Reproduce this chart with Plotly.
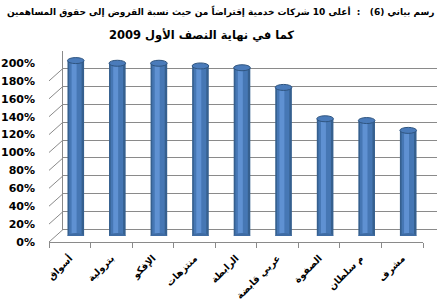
import plotly.graph_objects as go

categories = ["أسواق", "بترولية", "الإفكو", "منتزهات", "الرابطة", "عربي قابضة", "الصفوة", "م سلطان", "مشرف"]
values = [196, 193, 193, 190, 188, 166, 131, 129, 118]
tick_vals = [0, 20, 40, 60, 80, 100, 120, 140, 160, 180, 200]
tick_text = [f"{v}%" for v in tick_vals]
title_line1 = "رسم بياني (6)   :  أعلى 10 شركات خدمية إقتراضاً من حيث نسبة القروض إلى حقوق المساهمين"
title_line2 = "كما في نهاية النصف الأول 2009"

W, H = 440, 301
ML, MR, MT, MB = 49, 3, 50, 59
PW = W - ML - MR
PH = H - MT - MB
DX, DY = 14, 12.5      # depth of the pseudo-3D box
BX, BY = 6, 6          # bar depth offset

font_fam = "DejaVu Sans"
grid_c = "#8a8a8a"
n = len(categories)
idx = list(range(n))

fig = go.Figure()

# invisible helper traces so every axis is drawn
fig.add_trace(go.Scatter(x=categories, y=[None]*n, xaxis="x", yaxis="y", showlegend=False, hoverinfo="skip"))
fig.add_trace(go.Scatter(x=idx, y=[None]*n, xaxis="x2", yaxis="y3", showlegend=False, hoverinfo="skip"))

# cylinder bars (layered for shading)
fig.add_trace(go.Bar(x=categories, y=values, xaxis="x3", yaxis="y2", width=0.4,
                     marker=dict(color="#36608f", line=dict(width=0)), showlegend=False, hoverinfo="skip"))
fig.add_trace(go.Bar(x=categories, y=values, xaxis="x3", yaxis="y2", width=0.3, offset=-0.16,
                     marker=dict(color="#4677b4", line=dict(width=0)), showlegend=False, hoverinfo="skip"))
fig.add_trace(go.Bar(x=categories, y=values, xaxis="x3", yaxis="y2", width=0.12, offset=-0.1,
                     marker=dict(color="#5f91d2", line=dict(width=0)), showlegend=False, hoverinfo="skip"))

shapes = []
# side wall diagonals
for t in tick_vals:
    shapes.append(dict(type="line", xref="x", yref="y", xsizemode="pixel", ysizemode="pixel",
                       xanchor=-0.5, yanchor=t, x0=0, x1=DX, y0=0, y1=DY,
                       line=dict(color=grid_c, width=1), layer="below"))
# right floor diagonal
shapes.append(dict(type="line", xref="x", yref="y", xsizemode="pixel", ysizemode="pixel",
                   xanchor=n - 0.5, yanchor=0, x0=0, x1=DX, y0=0, y1=DY,
                   line=dict(color=grid_c, width=1), layer="below"))
# cylinder bottoms and tops
for i, v in zip(idx, values):
    shapes.append(dict(type="circle", xref="x3", yref="y2", ysizemode="pixel", yanchor=0,
                       x0=i - 0.2, x1=i + 0.2, y0=-3, y1=3,
                       fillcolor="#3f6ca4", line=dict(width=0), layer="above"))
    shapes.append(dict(type="circle", xref="x3", yref="y2", ysizemode="pixel", yanchor=v,
                       x0=i - 0.2, x1=i + 0.2, y0=-3, y1=3,
                       fillcolor="#4a7bba", line=dict(color="#2f5580", width=1), layer="above"))

fig.update_layout(
    width=W, height=H,
    margin=dict(l=ML, r=MR, t=MT, b=MB, autoexpand=False),
    paper_bgcolor="white", plot_bgcolor="rgba(0,0,0,0)",
    barmode="overlay",
    font=dict(family=font_fam, color="black"),
    xaxis=dict(domain=[0, (PW - DX) / PW], type="category", range=[-0.5, n - 0.5], anchor="y",
               automargin=False,
               tickson="boundaries", ticks="outside", ticklen=5, tickcolor=grid_c,
               showline=True, linecolor=grid_c, linewidth=1, showgrid=False,
               tickangle=-45, ticklabelstandoff=6,
               tickfont=dict(size=9.5, weight="bold", family=font_fam)),
    yaxis=dict(domain=[0, 179 / PH], range=[0, 200], anchor="x", automargin=False,
               tickvals=tick_vals, ticktext=tick_text, showgrid=False, zeroline=False,
               showline=False, ticks="", ticklabelstandoff=13,
               tickfont=dict(size=11, weight="bold", family=font_fam)),
    xaxis2=dict(domain=[DX / PW, 1], range=[-0.5, n - 0.5], anchor="y3", visible=False),
    yaxis3=dict(domain=[DY / PH, (DY + 179) / PH], range=[0, 200], anchor="x2",
                automargin=False,
                tickvals=tick_vals, showticklabels=False, showgrid=True, gridcolor=grid_c,
                gridwidth=1, zeroline=True, zerolinecolor=grid_c, zerolinewidth=1,
                showline=True, linecolor=grid_c, linewidth=1, ticks=""),
    xaxis3=dict(domain=[BX / PW, (PW - DX + BX) / PW], type="category", range=[-0.5, n - 0.5],
                anchor="y2", visible=False),
    yaxis2=dict(domain=[BY / PH, (BY + 179) / PH], range=[0, 200], anchor="x3", visible=False),
    shapes=shapes,
    annotations=[
        dict(text=title_line1, xref="paper", yref="paper", x=(437 - ML) / PW, xanchor="right",
             y=(H - MB - 12) / PH, yanchor="middle", showarrow=False,
             font=dict(size=9, weight="bold", family=font_fam)),
        dict(text=title_line2, xref="paper", yref="paper", x=(296 - ML) / PW, xanchor="right",
             y=(H - MB - 36) / PH, yanchor="middle", showarrow=False,
             font=dict(size=11.5, weight="bold", family=font_fam)),
    ],
)

fig.write_html("out.html")
